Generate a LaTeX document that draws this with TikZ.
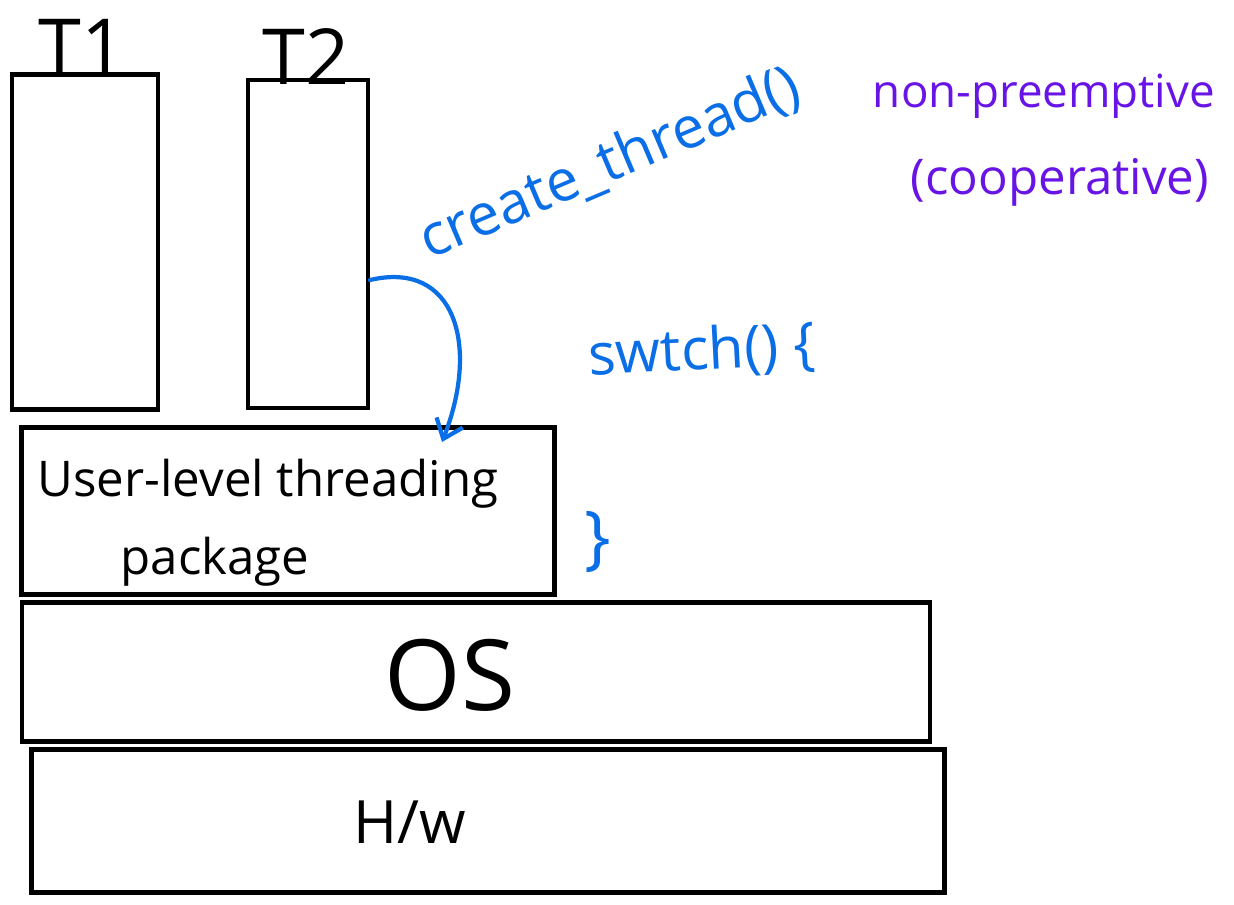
\documentclass[tikz,border=0pt]{standalone}
\usepackage{fontspec}
\setmainfont{Open Sans}
\usepackage{xcolor}
\usepackage{tikz}
\usetikzlibrary{arrows.meta}

\definecolor{penblue}{RGB}{10,110,230}
\definecolor{penpurple}{RGB}{105,20,230}

\tikzset{
    layer/.style={draw, line width=2.6pt, inner sep=0pt},
    hand/.style={inner sep=1pt, font=\fontsize{28}{34}\selectfont},
    note/.style={inner sep=0pt, text=penblue, font=\fontsize{33}{40}\selectfont},
}

\begin{document}
\begin{tikzpicture}[x=0.02cm, y=-0.02cm]
        \useasboundingbox (0,0) rectangle (1234,904);

        \node[layer, minimum width=2.92cm, minimum height=6.7cm] (t1) at (85,242) {};
        \node[layer, minimum width=2.4cm, minimum height=6.56cm] (t2) at (308,244) {};
        \node[hand, font=\fontsize{44}{50}\selectfont, anchor=base] (t1name) at (82,74) {T1};
        \node[hand, font=\fontsize{44}{50}\selectfont, anchor=base] (t2name) at (306,84) {T2};

        \node[layer, minimum width=10.66cm, minimum height=3.34cm] (ult) at (288,511) {};
        \node[hand] (ultline) at (268,484) {User-level threading};
        \node[hand] (ultpkg) at (215,562) {package};

        \node[layer, minimum width=18.16cm, minimum height=2.78cm] (os) at (476,672) {};
        \node[hand, font=\fontsize{56}{62}\selectfont] (oslabel) at (450,675) {OS};
        \node[layer, minimum width=18.26cm, minimum height=2.86cm] (hw) at (488,821) {};
        \node[hand, font=\fontsize{34}{40}\selectfont] (hwlabel) at (410,822) {H/w};

        \node[note, rotate=23] (create) at (610,164) {create\_thread()};
        \coordinate (ctstart) at (370,280);
        \coordinate (ctend) at (442,442);
        \draw[penblue, line width=2.4pt, line cap=round, -{Straight Barb[length=10pt, width=16pt]}]
            (ctstart) .. controls (455,260) and (480,345) .. (ctend);

        \node[note, rotate=3] (swtch) at (702,352) {swtch() \{};
        \node[note, font=\fontsize{40}{46}\selectfont] (close) at (598,542) {\}};

        \node[inner sep=1pt, text=penpurple, font=\fontsize{26}{32}\selectfont] (nonpre) at (1044,96) {non-preemptive};
        \node[inner sep=1pt, text=penpurple, font=\fontsize{28}{34}\selectfont] (coop) at (1060,182) {(cooperative)};
\end{tikzpicture}
\end{document}
